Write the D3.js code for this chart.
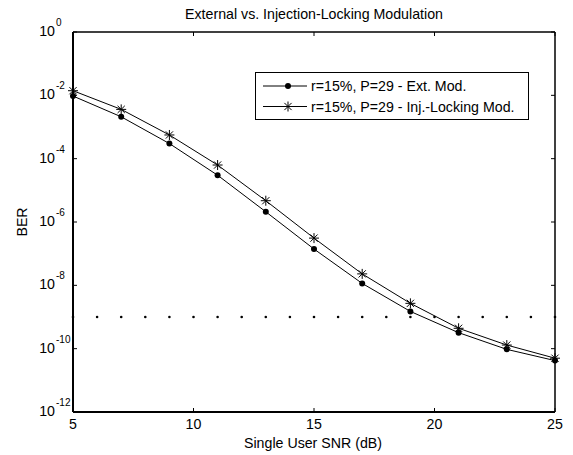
<!DOCTYPE html>
<html><head><meta charset="utf-8">
<script src="https://cdn.jsdelivr.net/npm/d3@7"></script>
<style>body{margin:0;background:#fff}svg text{font-family:"Liberation Sans",Arial,Helvetica,sans-serif;fill:#000}</style>
</head><body><svg id="c" width="573" height="455"></svg>
<script>
const snr = [5,7,9,11,13,15,17,19,21,23,25];
const berExt = [9.5e-3,2.1e-3,3.0e-4,3.0e-5,2.1e-6,1.4e-7,1.15e-8,1.5e-9,3.2e-10,9.5e-11,4.2e-11];
const berInj = [1.4e-2,3.6e-3,5.6e-4,6.3e-5,4.7e-6,3.1e-7,2.3e-8,2.7e-9,4.4e-10,1.3e-10,5.0e-11];
const thresholdX = d3.range(5,26,1);
const thresholdY = 1e-9;
const xTicks = [5,10,15,20,25];
const yTickExps = [0,-2,-4,-6,-8,-10,-12];
const seriesNames = ["r=15%, P=29 - Ext. Mod.","r=15%, P=29 - Inj.-Locking Mod."];
const title = "External vs. Injection-Locking Modulation";
const xLabel = "Single User SNR (dB)";
const yLabel = "BER";

const L=73,R=555,T=32,B=412;
const FS=14.2;
const svg=d3.select("#c");
const x=d3.scaleLinear().domain([5,25]).range([L,R]);
const y=d3.scaleLog().domain([1e-12,1]).range([B,T]);

const g=svg.append("g");
xTicks.forEach(t=>{
  g.append("line").attr("x1",x(t)).attr("x2",x(t)).attr("y1",B).attr("y2",B-4).attr("stroke","#000");
  g.append("line").attr("x1",x(t)).attr("x2",x(t)).attr("y1",T).attr("y2",T+4).attr("stroke","#000");
  g.append("text").attr("x",x(t)).attr("y",B+17).attr("text-anchor","middle").attr("font-size",FS).text(t);
});
yTickExps.forEach(e=>{
  const yy=y(Math.pow(10,e));
  g.append("line").attr("x1",L).attr("x2",L+4).attr("y1",yy).attr("y2",yy).attr("stroke","#000");
  g.append("line").attr("x1",R).attr("x2",R-4).attr("y1",yy).attr("y2",yy).attr("stroke","#000");
  g.append("text").attr("x",L-18).attr("y",yy+4).attr("text-anchor","end").attr("font-size",FS).text("10");
  g.append("text").attr("x",L-17).attr("y",yy-6).attr("text-anchor","start").attr("font-size",10).text(String(e));
});

svg.append("line").attr("x1",L).attr("x2",R).attr("y1",T).attr("y2",T).attr("stroke","#000").attr("stroke-width",1.5);
svg.append("line").attr("x1",R).attr("x2",R).attr("y1",T).attr("y2",B).attr("stroke","#000").attr("stroke-width",1.5);
svg.append("line").attr("x1",L).attr("x2",R).attr("y1",B).attr("y2",B).attr("stroke","#000").attr("stroke-width",2);
svg.append("line").attr("x1",L).attr("x2",L).attr("y1",T).attr("y2",B).attr("stroke","#000").attr("stroke-width",2);

svg.append("g").selectAll("circle").data(thresholdX).join("circle")
  .attr("cx",d=>x(d)).attr("cy",y(thresholdY)).attr("r",1.3).attr("fill","#000");

const line=d3.line().x(d=>x(d[0])).y(d=>y(d[1]));
function star(gg,cx,cy,r){
  const p=`M${cx-r},${cy}L${cx+r},${cy}M${cx},${cy-r}L${cx},${cy+r}M${cx-r*0.72},${cy-r*0.72}L${cx+r*0.72},${cy+r*0.72}M${cx-r*0.72},${cy+r*0.72}L${cx+r*0.72},${cy-r*0.72}`;
  gg.append("path").attr("d",p).attr("stroke","#000").attr("stroke-width",1).attr("fill","none");
}
const dExt=snr.map((s,i)=>[s,berExt[i]]);
const dInj=snr.map((s,i)=>[s,berInj[i]]);
svg.append("path").datum(dExt).attr("d",line).attr("fill","none").attr("stroke","#000").attr("stroke-width",1);
svg.append("path").datum(dInj).attr("d",line).attr("fill","none").attr("stroke","#000").attr("stroke-width",1);
svg.append("g").selectAll("circle").data(dExt).join("circle").attr("cx",d=>x(d[0])).attr("cy",d=>y(d[1])).attr("r",3).attr("fill","#000");
const sg=svg.append("g");
dInj.forEach(d=>star(sg,x(d[0]),y(d[1]),5));

const lg=svg.append("g");
lg.append("rect").attr("x",255.5).attr("y",72.5).attr("width",273).attr("height",47).attr("fill","#fff").attr("stroke","#000").attr("stroke-width",1);
[0,1].forEach(i=>{
  const yy=86+i*20.5;
  lg.append("line").attr("x1",263).attr("x2",307).attr("y1",yy).attr("y2",yy).attr("stroke","#000");
  if(i===0) lg.append("circle").attr("cx",288).attr("cy",yy).attr("r",3).attr("fill","#000");
  else star(lg,288,yy,5);
  lg.append("text").attr("x",311).attr("y",yy+5).attr("font-size",FS).text(seriesNames[i]);
});

svg.append("text").attr("x",314).attr("y",19).attr("text-anchor","middle").attr("font-size",FS).text(title);
svg.append("text").attr("x",313).attr("y",448).attr("text-anchor","middle").attr("font-size",FS).text(xLabel);
svg.append("text").attr("transform","translate(27,222) rotate(-90)").attr("text-anchor","middle").attr("font-size",FS).text(yLabel);
</script></body></html>
